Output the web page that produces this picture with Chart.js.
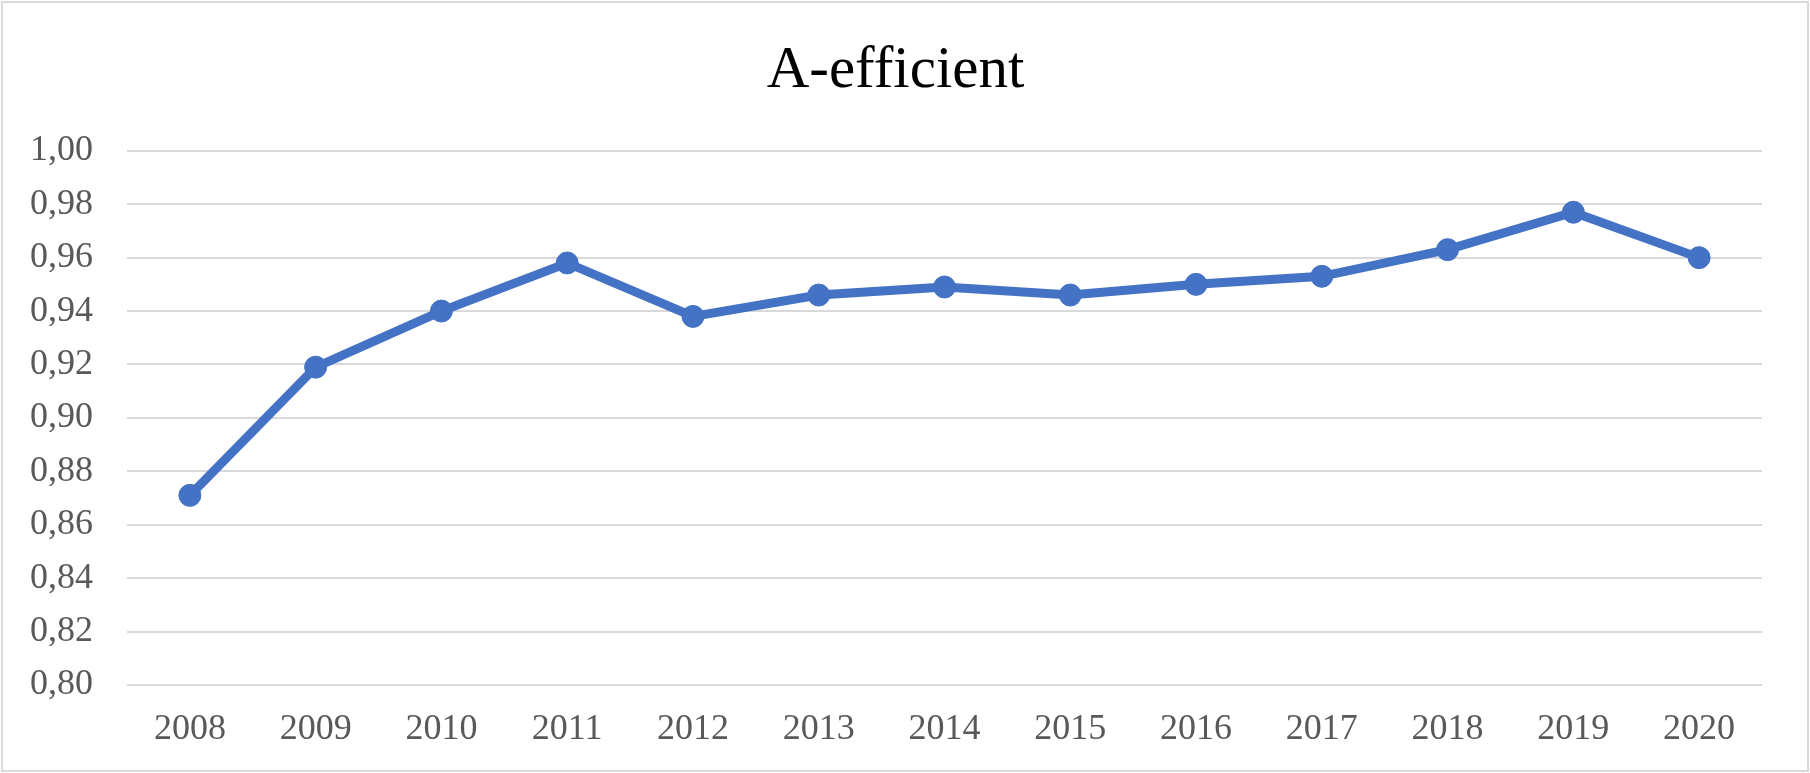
<!DOCTYPE html>
<html>
<head>
<meta charset="utf-8">
<title>A-efficient</title>
<script src="https://cdn.jsdelivr.net/npm/chart.js@4/dist/chart.umd.min.js"></script>
<style>
  html, body { margin: 0; padding: 0; background: #fff; }
  #wrap { position: relative; width: 1810px; height: 773px; }
  #myChart { display: block; }
  #frame {
    position: absolute; left: 1px; top: 1px; right: 1px; bottom: 1px;
    border: 2px solid #d9d9d9; pointer-events: none;
  }
</style>
</head>
<body>
<div id="wrap">
  <canvas id="myChart" width="1810" height="773"></canvas>
  <div id="frame"></div>
</div>
<script>
// chart data
const years = ["2008", "2009", "2010", "2011", "2012", "2013", "2014",
               "2015", "2016", "2017", "2018", "2019", "2020"];
const efficiency = [0.871, 0.919, 0.940, 0.958, 0.938, 0.946, 0.949,
                    0.946, 0.950, 0.953, 0.963, 0.977, 0.960];
const yMin = 0.80;
const yMax = 1.00;
const yStep = 0.02;

const serif = "'Liberation Serif', 'Times New Roman', serif";
const blue = "#4472C4";

// ------------------ LINE CHART ------------------ //
const ctx = document.getElementById("myChart").getContext("2d");
let chart = new Chart(ctx, {
  type: "line",
  data: {
    labels: years,
    datasets: [{
      label: "A-efficient",
      data: efficiency,
      borderColor: blue,
      backgroundColor: blue,
      borderWidth: 9,
      tension: 0,
      pointRadius: 11,
      pointBorderWidth: 1,
      pointBorderColor: blue,
      pointBackgroundColor: blue
    }]
  },
  options: {
    responsive: false,
    animation: false,
    layout: {
      padding: { left: 29, right: 48, top: 0, bottom: 22 }
    },
    plugins: {
      legend: { display: false },
      tooltip: { enabled: false },
      title: {
        display: true,
        text: "A-efficient",
        color: "#000",
        font: { family: serif, size: 59, weight: "normal" },
        padding: { top: 36, bottom: 44 }
      }
    },
    scales: {
      x: {
        offset: true,
        grid: { display: false, drawTicks: false },
        border: { display: false },
        ticks: {
          color: "#595959",
          padding: 23,
          maxRotation: 0,
          font: { family: serif, size: 36 }
        },
        // fixed axis height so the plot bottom sits where the reference has it
        afterFit: scale => { scale.height = 66; }
      },
      y: {
        min: yMin,
        max: yMax,
        grid: { color: "#d9d9d9", lineWidth: 2, drawTicks: false },
        border: { display: false },
        ticks: {
          stepSize: yStep,
          color: "#595959",
          padding: 34,
          font: { family: serif, size: 36 },
          callback: v => v.toFixed(2).replace(".", ",")
        },
        afterFit: scale => { scale.width = 98; }
      }
    }
  }
});
</script>
</body>
</html>
